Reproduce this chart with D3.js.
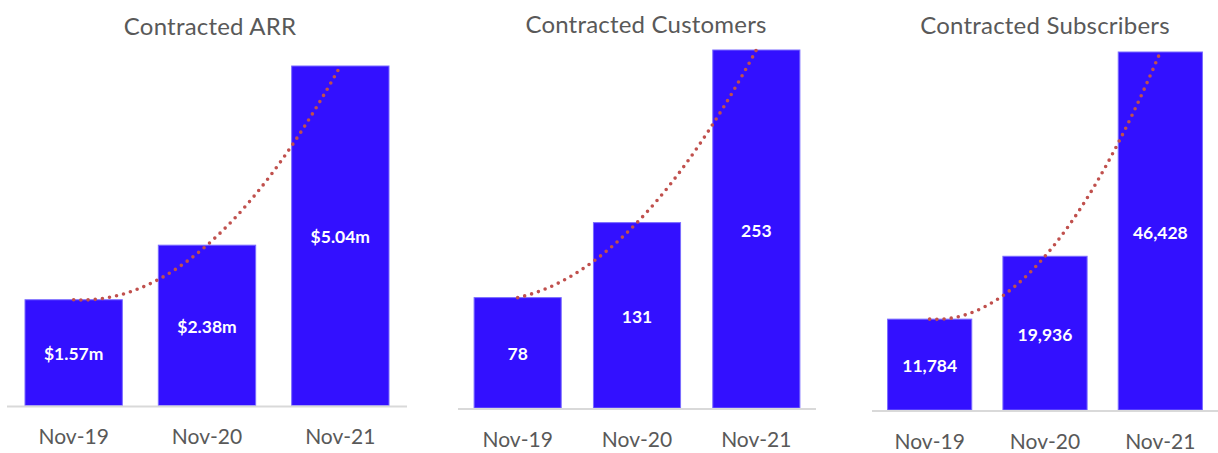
<!DOCTYPE html>
<html>
<head>
<meta charset="utf-8">
<script src="https://cdn.jsdelivr.net/npm/d3@7"></script>
<style>
  body { margin: 0; background: #fff; }
  svg { display: block; }
  text { font-family: Lato, "Open Sans", sans-serif; }
</style>
</head>
<body>
<div class="container"></div>
<script>
var width = 1218,
    height = 453;

// data
var categories = ["Nov-19", "Nov-20", "Nov-21"];
var arrValues = [1.57, 2.38, 5.04];
var customerValues = [78, 131, 253];
var subscriberValues = [11784, 19936, 46428];
var titles = ["Contracted ARR", "Contracted Customers", "Contracted Subscribers"];

var fmtArr = function(v) { return "$" + d3.format(".2f")(v) + "m"; };
var fmtInt = d3.format(",");

// layout of the three small charts
var panels = [
  {title: titles[0], values: arrValues, fmt: fmtArr, x0: 7, x1: 407, base: 405.5, top: 66, titleX: 210, titleY: 25},
  {title: titles[1], values: customerValues, fmt: fmtInt, x0: 458, x1: 816, base: 408, top: 50, titleX: 646, titleY: 23},
  {title: titles[2], values: subscriberValues, fmt: fmtInt, x0: 872, x1: 1218, base: 410, top: 52, titleX: 1045, titleY: 24}
];

var svg = d3.select("div.container").append("svg")
    .attr("width", width)
    .attr("height", height);

// quadratic through the three points (Excel order-2 trendline)
function quad(vals) {
    return function(t) {
        var l0 = (t - 1) * (t - 2) / 2,
            l1 = -t * (t - 2),
            l2 = t * (t - 1) / 2;
        return vals[0] * l0 + vals[1] * l1 + vals[2] * l2;
    };
}

panels.forEach(function(p) {
    var g = svg.append("g");

    var x = d3.scaleBand()
        .domain(categories)
        .range([p.x0, p.x1])
        .paddingInner(0.27)
        .paddingOuter(0.135);

    var y = d3.scaleLinear()
        .domain([0, d3.max(p.values)])
        .range([p.base, p.top]);

    g.append("text")
        .attr("x", p.titleX)
        .attr("y", p.titleY)
        .attr("text-anchor", "middle")
        .attr("dominant-baseline", "central")
        .attr("font-size", 24)
        .attr("letter-spacing", 0.2)
        .attr("fill", "#595959")
        .text(p.title);

    g.selectAll("rect.bar")
        .data(p.values)
        .enter().append("rect")
        .attr("class", "bar")
        .attr("x", function(d, i) { return x(categories[i]); })
        .attr("y", function(d) { return y(d); })
        .attr("width", x.bandwidth())
        .attr("height", function(d) { return y(0) - y(d); })
        .attr("fill", "#3310ff")
        .attr("stroke", "#7a6bff")
        .attr("stroke-width", 1);

    // axis line
    g.append("line")
        .attr("x1", p.x0).attr("x2", p.x1)
        .attr("y1", y(0) + 1).attr("y2", y(0) + 1)
        .attr("stroke", "#d9d9d9")
        .attr("stroke-width", 2);

    // value labels
    g.selectAll("text.val")
        .data(p.values)
        .enter().append("text")
        .attr("class", "val")
        .attr("x", function(d, i) { return x(categories[i]) + x.bandwidth() / 2; })
        .attr("y", function(d) { return (y(d) + y(0)) / 2 + 1; })
        .attr("text-anchor", "middle")
        .attr("dominant-baseline", "central")
        .attr("font-size", 17.5)
        .attr("font-weight", "bold")
        .attr("fill", "#fff")
        .text(function(d) { return p.fmt(d); });

    // category labels
    g.selectAll("text.cat")
        .data(categories)
        .enter().append("text")
        .attr("class", "cat")
        .attr("x", function(d) { return x(d) + x.bandwidth() / 2; })
        .attr("y", y(0) + 30)
        .attr("text-anchor", "middle")
        .attr("dominant-baseline", "central")
        .attr("font-size", 21)
        .attr("fill", "#595959")
        .text(function(d) { return d; });

    // dotted trendline
    var f = quad(p.values);
    var ts = d3.range(0, 2.0001, 0.02);
    var cx = function(t) {
        var a = x(categories[0]) + x.bandwidth() / 2,
            b = x(categories[2]) + x.bandwidth() / 2;
        return a + (b - a) * t / 2;
    };
    g.append("path")
        .datum(ts)
        .attr("fill", "none")
        .attr("stroke", "#c0504d")
        .attr("stroke-width", 3.6)
        .attr("stroke-linecap", "round")
        .attr("stroke-dasharray", "0 7.2")
        .attr("d", d3.line()
            .x(function(t) { return cx(t); })
            .y(function(t) { return y(f(t)); })
            .curve(d3.curveLinear));
});
</script>
</body>
</html>
